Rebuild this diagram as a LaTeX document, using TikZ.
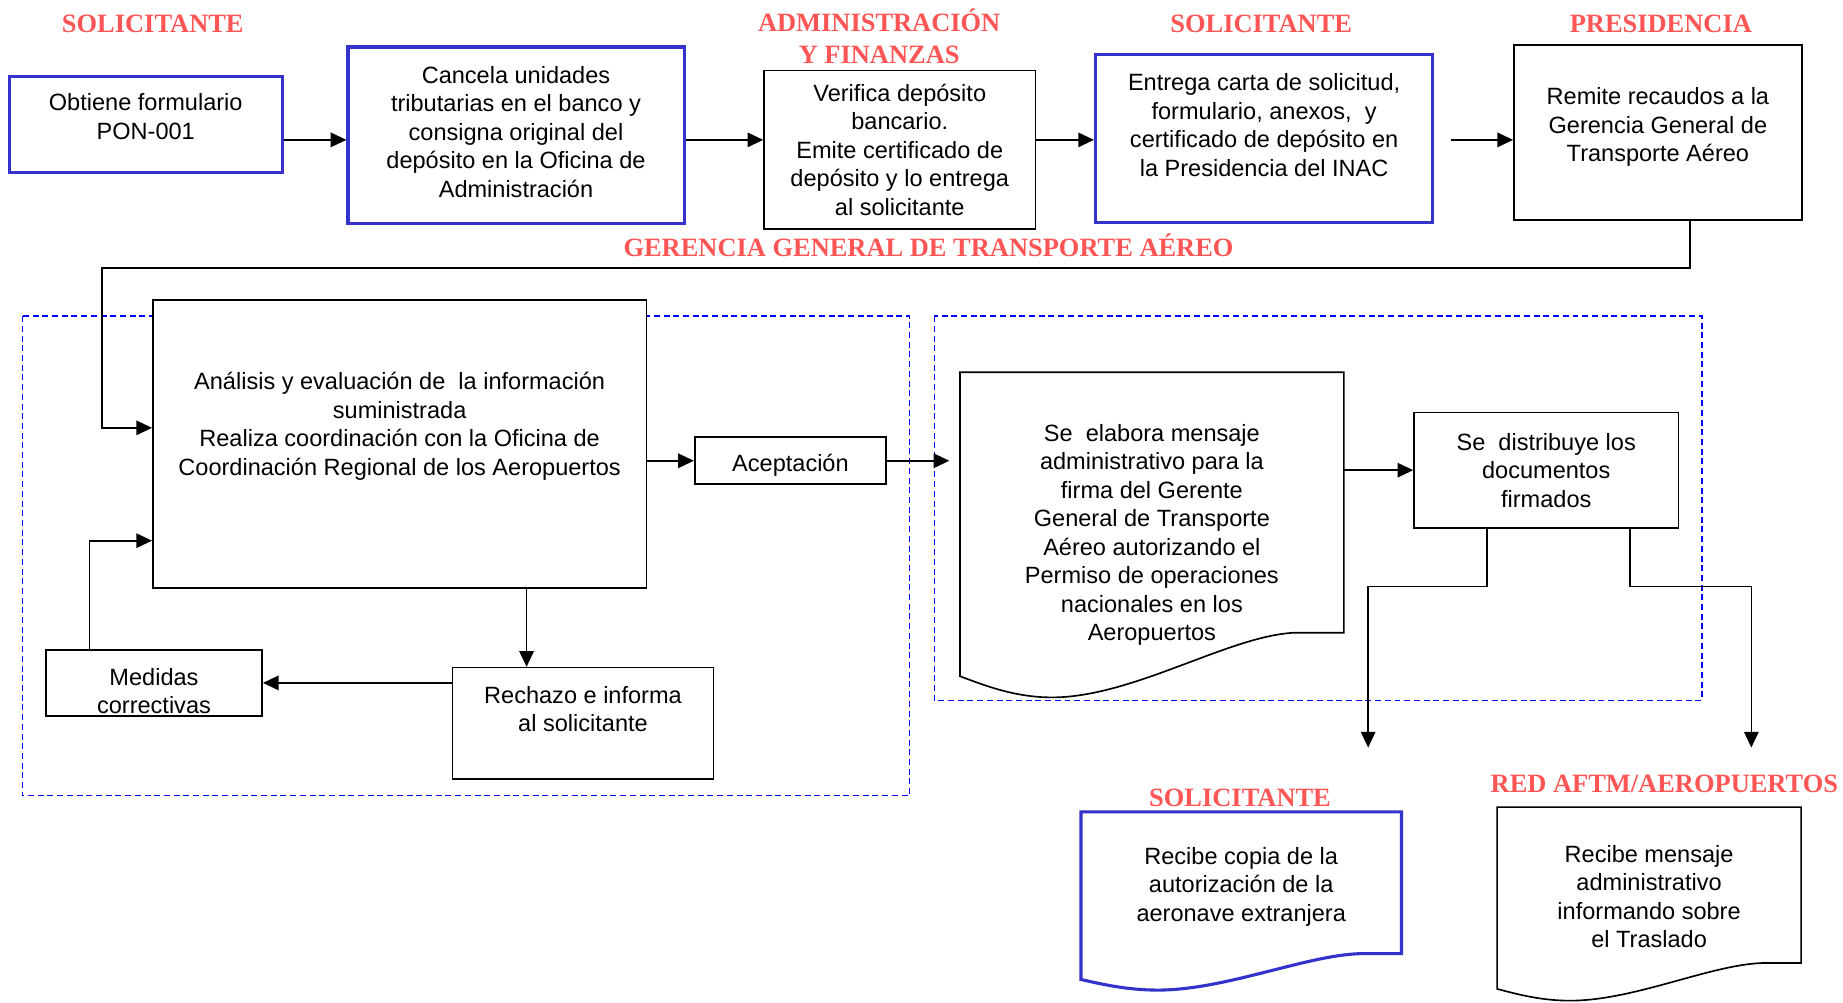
\documentclass[tikz,border=0pt]{standalone}
\usepackage{fontspec}
\setmainfont{Liberation Sans}
\newfontfamily\headserif{Liberation Serif}
\usetikzlibrary{arrows.meta, calc}

\definecolor{boxblue}{RGB}{51,51,204}
\definecolor{headred}{RGB}{255,85,85}

\tikzset{
  flowtext/.style={align=center, font=\fontsize{11.4}{13.8}\selectfont, inner sep=2pt},
  bluebox/.style={flowtext, draw=boxblue, line width=1.5pt, fill=white},
  blackbox/.style={flowtext, draw=black, line width=0.8pt, fill=white},
  docbox/.style={flowtext},
  heading/.style={align=center, text=headred, inner sep=0pt,
    font=\headserif\bfseries\fontsize{12.8}{15.4}\selectfont},
  arr/.style={line width=0.8pt, -{Triangle[length=7.6pt,width=7pt]}},
  lane/.style={draw=blue, line width=0.7pt, dash pattern=on 2.9pt off 1.8pt},
}

\begin{document}
\begin{tikzpicture}[x=0.02cm, y=-0.02cm]
    \useasboundingbox (0,0) rectangle (1568,853);

    % dashed areas
    \draw[lane] (19,269) rectangle (774,677);
    \draw[lane] (795,269) rectangle (1448,596);

    % headings
    \node[heading] (solA) at (130,20) {SOLICITANTE};
    \node[heading] (admin) at (748,31) {ADMINISTRACIÓN\\Y FINANZAS};
    \node[heading] (solB) at (1073,20) {SOLICITANTE};
    \node[heading] (pres) at (1413,20) {PRESIDENCIA};
    \node[heading] (gerencia) at (790,209) {GERENCIA GENERAL DE TRANSPORTE AÉREO};
    \node[heading] (solC) at (1055,679) {SOLICITANTE};
    \node[heading] (red) at (1416,667) {RED AFTM/AEROPUERTOS};

    % first row
    \node[bluebox, minimum width=4.64cm, minimum height=1.64cm, text depth=8pt] (obtiene) at (124,106)
        {Obtiene formulario\\PON-001};
    \node[bluebox, minimum width=5.72cm, minimum height=3cm, text depth=3.4pt] (cancela) at (439,115)
        {Cancela unidades\\tributarias en el banco y\\consigna original del\\depósito en la Oficina de\\Administración};
    \node[blackbox, minimum width=4.62cm, minimum height=2.7cm] (verifica) at (765.5,127.5)
        {Verifica depósito\\bancario.\\Emite certificado de\\depósito y lo entrega\\al solicitante};
    \node[bluebox, minimum width=5.74cm, minimum height=2.86cm, text depth=12.5pt] (entrega) at (1075.5,117.5)
        {Entrega carta de solicitud,\\formulario, anexos,~ y\\certificado de depósito en\\la Presidencia del INAC};
    \node[blackbox, minimum width=4.9cm, minimum height=2.98cm, text depth=7.5pt] (remite) at (1410.5,112.5)
        {Remite recaudos a la\\Gerencia General de\\Transporte Aéreo};

    % left area
    \node[blackbox, minimum width=8.4cm, minimum height=4.9cm, text depth=19.5pt] (analisis) at (340,377.5)
        {Análisis y evaluación de~ la información\\suministrada\\Realiza coordinación con la Oficina de\\Coordinación Regional de los Aeropuertos};
    \node[blackbox, minimum width=3.26cm, minimum height=0.8cm, inner ysep=0pt, text height=13pt] (aceptacion) at (672.5,392) {Aceptación};
    \node[blackbox, minimum width=4.44cm, minimum height=1.9cm, text depth=14.2pt] (rechazo) at (496,615.5)
        {Rechazo e informa\\al solicitante};
    \node[blackbox, minimum width=3.68cm, minimum height=1.12cm, inner ysep=0pt, text height=30.1pt] (medidas) at (131,581)
        {Medidas\\correctivas};

    % right area
    \node[docbox, minimum width=6.52cm, minimum height=5.52cm] (elabora) at (980,455)
        {Se~ elabora mensaje\\administrativo para la\\firma del Gerente\\General de Transporte\\Aéreo autorizando el\\Permiso de operaciones\\nacionales en los\\Aeropuertos};
    \node[blackbox, minimum width=4.5cm, minimum height=1.96cm] (distribuye) at (1315.5,400)
        {Se~ distribuye los\\documentos\\firmados};

    % bottom row
    \node[docbox, minimum width=5.44cm, minimum height=3.02cm, text depth=16.1pt] (copia) at (1056,766.5)
        {Recibe copia de la\\autorización de la\\aeronave extranjera};
    \node[docbox, minimum width=5.16cm, minimum height=3.28cm, text depth=7.4pt] (mensaje) at (1403,769)
        {Recibe mensaje\\administrativo\\informando sobre\\el Traslado};

    % document outlines
    \foreach \n/\r/\l/\c/\w in {elabora/55/18/black/0.8pt, copia/31/9/boxblue/1.5pt, mensaje/32/10/black/0.8pt} {
        \draw[draw=\c, line width=\w] (\n.north west) -- (\n.north east) -- ($(\n.south east)+(0,-\r)$)
            -- ($(\n.south west)!0.87!(\n.south east)+(0,-\r)$)
            .. controls ($(\n.south west)!0.7!(\n.south east)+(0,-\r*0.95)$) and ($(\n.south west)!0.45!(\n.south east)$)
            .. ($(\n.south west)!0.24!(\n.south east)$)
            .. controls ($(\n.south west)!0.14!(\n.south east)$) and ($(\n.south west)!0.06!(\n.south east)+(0,-\l*0.6)$)
            .. ($(\n.south west)+(0,-\l)$) -- cycle;
    }

    % connectors
    \coordinate (rowA) at (0,119);
    \draw[arr] (obtiene.east |- rowA) -- (cancela.west |- rowA);
    \draw[arr] (cancela.east |- rowA) -- (verifica.west |- rowA);
    \draw[arr] (verifica.east |- rowA) -- (entrega.west |- rowA);
    \draw[arr, shorten <=0.28cm] (entrega.east |- rowA) -- (remite.west |- rowA);

    \coordinate (bendR) at (1438,228);
    \coordinate (bendL) at (87,228);
    \draw[arr] (remite.south -| bendR) -- (bendR) -- (bendL) |- ([yshift=0.27cm]analisis.west);

    \draw[arr] (analisis.east |- aceptacion) -- (aceptacion.west);
    \draw[arr, shorten >=0.18cm] (aceptacion.east) -- (elabora.west |- aceptacion);
    \draw[arr] (elabora.east |- distribuye) -- (distribuye.west);

    \coordinate (splitL) at (1265,499);
    \coordinate (splitR) at (1387,499);
    \coordinate (toCopia) at (1164,636);
    \coordinate (toRed) at (1490,636);
    \draw[arr] (distribuye.south -| splitL) -- (splitL) -| (toCopia);
    \draw[arr] (distribuye.south -| splitR) -- (splitR) -| (toRed);

    \coordinate (dropX) at (448,534);
    \draw[arr] (analisis.south -| dropX) -- (rechazo.north -| dropX);
    \draw[arr] (rechazo.west |- medidas) -- (medidas.east);
    \coordinate (backX) at (76,460);
    \draw[arr] (medidas.north -| backX) |- (analisis.west |- backX);
\end{tikzpicture}
\end{document}
